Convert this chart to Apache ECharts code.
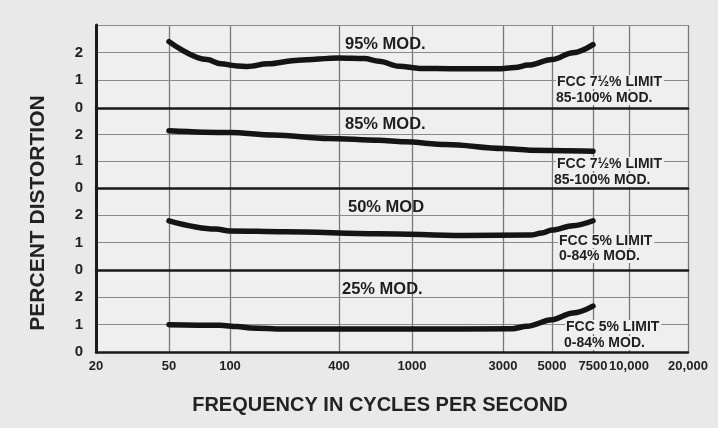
<!DOCTYPE html>
<html><head><meta charset="utf-8">
<script src="https://cdn.jsdelivr.net/npm/echarts@6/dist/echarts.min.js"></script>
<style>html,body{margin:0;padding:0;background:#e9e9e9}#c{width:718px;height:428px}</style>
</head><body><div id="c"></div>
<script>
// x-axis ticks (hand-drawn, non-uniform frequency scale)
const tickFreqs = [20, 50, 100, 400, 1000, 3000, 5000, 7500, 10000, 20000];
const tickLabels = ['20', '50', '100', '400', '1000', '3000', '5000', '7500', '10,000', '20,000'];
const axisSpan = [0, 73, 134, 243, 316, 407, 456, 497, 533, 592];

// y ticks per panel
const yTicks = [0, 1, 2];

// panel labels
const panelNames = ['95% MOD.', '85% MOD.', '50% MOD', '25% MOD.'];
const limitLine1 = ['FCC 7½% LIMIT', 'FCC 7½% LIMIT', 'FCC 5% LIMIT', 'FCC 5% LIMIT'];
const limitLine2 = ['85-100% MOD.', '85-100% MOD.', '0-84% MOD.', '0-84% MOD.'];

// series: frequency (c/s) and percent distortion
const freq95 = [50, 77, 90, 110, 125, 162, 238, 400, 550, 660, 850, 1100, 1600, 2800, 3400, 3900, 5000, 6150, 7500];
const dist95 = [2.4, 1.75, 1.6, 1.52, 1.5, 1.6, 1.73, 1.81, 1.79, 1.69, 1.51, 1.43, 1.42, 1.42, 1.46, 1.55, 1.75, 2.0, 2.29];

const freq85 = [50, 100, 173, 351, 660, 904, 1515, 3000, 3970, 7500];
const dist85 = [2.15, 2.08, 1.99, 1.86, 1.79, 1.73, 1.63, 1.48, 1.42, 1.38];

const freq50 = [50, 85, 100, 200, 660, 1850, 4000, 4500, 5000, 6150, 7500];
const dist50 = [1.8, 1.5, 1.43, 1.4, 1.33, 1.26, 1.28, 1.35, 1.46, 1.62, 1.8];

const freq25 = [50, 89, 110, 130, 200, 1000, 3300, 3850, 5000, 6150, 7500];
const dist25 = [1.0, 0.98, 0.93, 0.88, 0.84, 0.84, 0.85, 0.94, 1.18, 1.43, 1.68];

const panelFreqs = [freq95, freq85, freq50, freq25];
const panelDists = [dist95, dist85, dist50, dist25];

function toAxis(f) {
  for (let i = 0; i < tickFreqs.length - 1; i++) {
    const a = tickFreqs[i], b = tickFreqs[i + 1];
    if (f >= a && f <= b) {
      return axisSpan[i] + (axisSpan[i + 1] - axisSpan[i]) * Math.log(f / a) / Math.log(b / a);
    }
  }
  return f < tickFreqs[0] ? axisSpan[0] : axisSpan[axisSpan.length - 1];
}

const paper = '#efefef';
const ink = '#1a1a1a';
const FONT = '"Liberation Sans", Arial, sans-serif';

const grids = [
  { left: 96, width: 592, top: 25, height: 83 },
  { left: 96, width: 592, top: 108, height: 80 },
  { left: 96, width: 592, top: 188, height: 82 },
  { left: 96, width: 592, top: 270, height: 82 }
].map(g => Object.assign({ show: true, backgroundColor: paper, borderWidth: 0 }, g));

const xAxes = grids.map((g, i) => ({
  type: 'value', gridIndex: i, min: axisSpan[0], max: axisSpan[axisSpan.length - 1],
  z: 2,
  axisLine: { show: true, lineStyle: { color: ink, width: 2.5 } },
  axisTick: { show: false },
  splitLine: { show: false },
  axisLabel: {
    show: i === 3, customValues: axisSpan, margin: 8, hideOverlap: false,
    formatter: v => { const j = axisSpan.indexOf(v); return j >= 0 ? tickLabels[j] : ''; },
    color: '#222', fontFamily: FONT, fontWeight: 'bold', fontSize: 13
  },
  name: i === 3 ? 'FREQUENCY IN CYCLES PER SECOND' : '',
  nameLocation: 'middle', nameGap: 43,
  nameTextStyle: { color: '#222', fontFamily: FONT, fontWeight: 'bold', fontSize: 20, padding: [0, 24, 0, 0] }
}));

const yAxes = grids.map((g, i) => ({
  type: 'value', gridIndex: i, min: 0, max: 3, interval: 1,
  z: 2,
  axisLine: { show: true, lineStyle: { color: ink, width: 3 } },
  axisTick: { show: false },
  splitLine: { show: true, showMinLine: false, showMaxLine: i === 0, lineStyle: { color: '#8a8a8a', width: 1 } },
  axisLabel: {
    margin: 13,
    formatter: v => (yTicks.indexOf(v) >= 0 ? String(v) : ''),
    color: '#222', fontFamily: FONT, fontWeight: 'bold', fontSize: 15
  }
}));

const series = panelFreqs.map((fr, i) => ({
  name: panelNames[i], type: 'line', xAxisIndex: i, yAxisIndex: i,
  data: fr.map((f, k) => [toAxis(f), panelDists[i][k]]),
  smooth: 0.35, smoothMonotone: 'x', symbol: 'none', z: 3,
  lineStyle: { color: '#141414', width: 5.5, cap: 'round' },
  markLine: {
    silent: true, symbol: ['none', 'none'], z: 1, label: { show: false },
    lineStyle: { color: '#787878', width: 1.3, type: 'solid' },
    data: axisSpan.slice(1).map(u => ({ xAxis: u }))
  }
}));

const txt = (text, x, y, size, extra) => Object.assign({
  type: 'text', x, y, z: 100,
  style: { text, fill: '#1e1e1e', font: 'bold ' + size + 'px ' + FONT, verticalAlign: 'middle', align: 'left' }
}, extra || {});

const namePos = [[345, 44], [345, 124], [348, 207], [342, 289]];
const lim1Pos = [[556, 82], [556, 164], [558, 241], [565, 327]];
const lim2Pos = [[555, 98], [553, 180], [558, 256], [563, 343]];

const graphic = [];
panelNames.forEach((n, i) => {
  graphic.push(txt(n, namePos[i][0], namePos[i][1], 16.5));
  const a = txt(limitLine1[i], lim1Pos[i][0], lim1Pos[i][1], 14);
  a.style.backgroundColor = paper; a.style.padding = [0, 2, 0, 1];
  graphic.push(a);
  const b = txt(limitLine2[i], lim2Pos[i][0], lim2Pos[i][1], 14);
  b.style.backgroundColor = paper; b.style.padding = [0, 2, 0, 1];
  graphic.push(b);
});
graphic.push({
  type: 'text', x: 38, y: 213, rotation: Math.PI / 2, z: 100,
  style: { text: 'PERCENT DISTORTION', fill: '#222', font: 'bold 21px ' + FONT, align: 'center', verticalAlign: 'middle' }
});

const chart = echarts.init(document.getElementById('c'), null, { renderer: 'canvas' });
chart.setOption({
  backgroundColor: '#e9e9e9',
  animation: false,
  grid: grids,
  xAxis: xAxes,
  yAxis: yAxes,
  series,
  graphic
});
</script></body></html>
